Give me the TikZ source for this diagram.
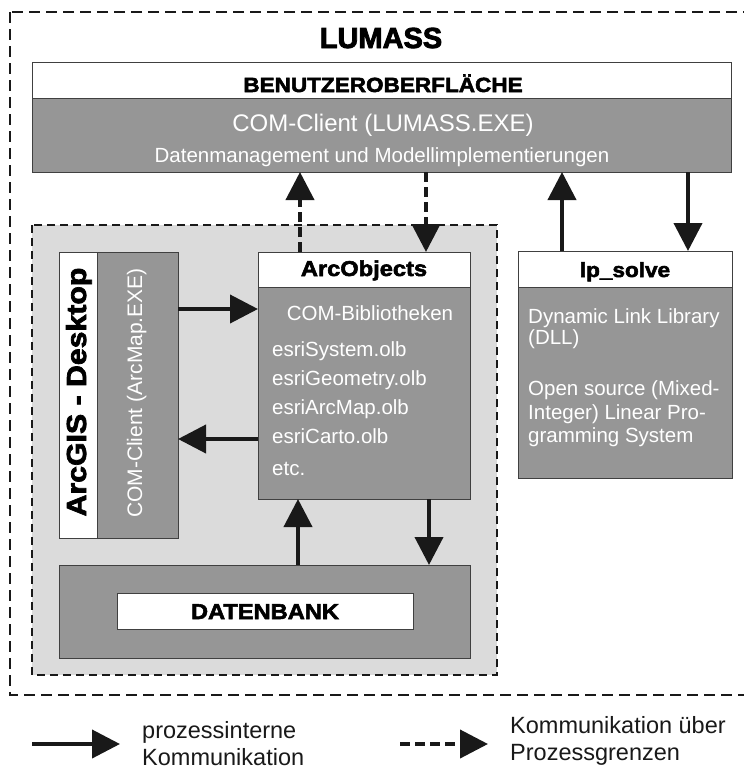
\documentclass[tikz,border=0pt]{standalone}
\usepackage{fontspec}
\setmainfont{Liberation Sans}
\newfontfamily\heavy[FakeBold=2.6,FakeStretch=1.1]{Liberation Sans Bold}
\newfontfamily\heavytitle[FakeBold=2.8]{Liberation Sans Bold}
\usetikzlibrary{arrows.meta}
\definecolor{boxgray}{gray}{0.59}
\definecolor{regiongray}{gray}{0.86}
\definecolor{edge}{gray}{0.25}
\definecolor{ink}{gray}{0.1}
\newcommand{\setfs}[1]{\fontsize{#1}{#1}\selectfont}
\begin{document}
\begin{tikzpicture}[x=1pt,y=-1pt,
  box/.style={draw=edge, line width=0.9pt, inner sep=0pt, outer sep=0pt, anchor=north west},
  whitebox/.style={box, fill=white},
  darkbox/.style={box, fill=boxgray},
  boxtitle/.style={font=\heavy\setfs{20.5}, text=black, anchor=base, inner sep=0pt},
  wtext/.style={text=white, inner sep=0pt, font=\setfs{20.5}},
  solidarrow/.style={draw=ink, line width=4pt, -{Triangle[length=28pt,width=28pt]}},
  dasharrow/.style={solidarrow, dash pattern=on 10pt off 5pt},
  legendtext/.style={anchor=base west, inner sep=0pt, font=\setfs{23.5}, text=ink}
]
\fill[white] (0,0) rectangle (744,769);
\clip (0,0) rectangle (744,769);

% outer process boundary
\draw[ink, line width=2pt, dash pattern=on 11pt off 6pt] (10,12) rectangle (770,695);
\node[font=\heavytitle\setfs{29}, anchor=base, inner sep=0pt] (title) at (381,48) {LUMASS};

% user interface
\node[whitebox, minimum width=699pt, minimum height=36pt] (hdr) at (32,62) {};
\node[darkbox, minimum width=699pt, minimum height=74pt] (lum) at (32,98) {};
\node[boxtitle, font=\heavy\setfs{20.5}] (hdrt) at (383,92) {BENUTZEROBERFLÄCHE};
\node[wtext, anchor=base, font=\setfs{24}] (lum1) at (383,131) {COM-Client (LUMASS.EXE)};
\node[wtext, anchor=base] (lum2) at (382,162) {Datenmanagement und Modellimplementierungen};

% ArcGIS region
\draw[fill=regiongray, draw=ink, line width=1.8pt, dash pattern=on 8pt off 5pt] (32,225) rectangle (497,675);

\node[whitebox, minimum width=38pt, minimum height=286pt] (agw) at (59,252) {};
\node[darkbox, minimum width=81pt, minimum height=286pt] (agc) at (97,252) {};
\node[rotate=90, anchor=base, inner sep=0pt, font=\heavy\setfs{27.5}] (agt) at (86,392) {ArcGIS - Desktop};
\node[rotate=90, anchor=base, wtext, font=\setfs{21}] (agct) at (142,393) {COM-Client (ArcMap.EXE)};

\node[whitebox, minimum width=212pt, minimum height=35pt] (aoh) at (258,252) {};
\node[darkbox, minimum width=212pt, minimum height=212pt] (aob) at (258,287) {};
\node[boxtitle, font=\heavy\setfs{21.5}] (aot) at (364,276) {ArcObjects};
\node[wtext, anchor=base] (com) at (370,320) {COM-Bibliotheken};
\node[wtext, anchor=base west] (l1) at (272,356) {esriSystem.olb};
\node[wtext, anchor=base west] (l2) at (272,385) {esriGeometry.olb};
\node[wtext, anchor=base west] (l3) at (272,414) {esriArcMap.olb};
\node[wtext, anchor=base west] (l4) at (272,443) {esriCarto.olb};
\node[wtext, anchor=base west] (l5) at (272,475) {etc.};

\node[darkbox, minimum width=411pt, minimum height=93pt] (db) at (59,565) {};
\node[whitebox, minimum width=296pt, minimum height=36pt] (dbl) at (117,593) {};
\node[boxtitle, font=\heavy\setfs{21.5}] (dbt) at (265,619) {DATENBANK};

% lp_solve
\node[whitebox, minimum width=214pt, minimum height=36pt] (lph) at (518,251) {};
\node[darkbox, minimum width=214pt, minimum height=191pt] (lpb) at (518,287) {};
\node[boxtitle] (lpt) at (625,277) {lp\_solve};
\node[wtext, anchor=base west] (p1) at (528,323) {Dynamic Link Library};
\node[wtext, anchor=base west] (p2) at (528,344) {(DLL)};
\node[wtext, anchor=base west] (p3) at (528,395) {Open source (Mixed-};
\node[wtext, anchor=base west] (p4) at (528,419) {Integer) Linear Pro-};
\node[wtext, anchor=base west] (p5) at (528,442) {gramming System};

% connector positions
\coordinate (xa) at (300,0);
\coordinate (xb) at (426,0);
\coordinate (xc) at (562,0);
\coordinate (xd) at (688,0);
\coordinate (xe) at (298,0);
\coordinate (xf) at (429,0);
\coordinate (ya) at (0,309);
\coordinate (yb) at (0,439);

\draw[dasharrow] (aoh.north -| xa) -- (lum.south -| xa);
\draw[dasharrow] (lum.south -| xb) -- (aoh.north -| xb);
\draw[solidarrow] (lph.north -| xc) -- (lum.south -| xc);
\draw[solidarrow] (lum.south -| xd) -- (lph.north -| xd);
\draw[solidarrow] (agc.east |- ya) -- (aob.west |- ya);
\draw[solidarrow] (aob.west |- yb) -- (agc.east |- yb);
\draw[solidarrow] (db.north -| xe) -- (aob.south -| xe);
\draw[solidarrow] (aob.south -| xf) -- (db.north -| xf);

% legend
\coordinate (s1) at (32,744);
\coordinate (e1) at (120,744);
\coordinate (s2) at (400,744);
\coordinate (e2) at (488,744);
\draw[solidarrow] (s1) -- (e1);
\draw[dasharrow] (s2) -- (e2);
\node[legendtext] (lg1) at (142,738) {prozessinterne};
\node[legendtext] (lg2) at (142,765) {Kommunikation};
\node[legendtext] (lg3) at (510,733) {Kommunikation über};
\node[legendtext] (lg4) at (510,760) {Prozessgrenzen};
\end{tikzpicture}
\end{document}
